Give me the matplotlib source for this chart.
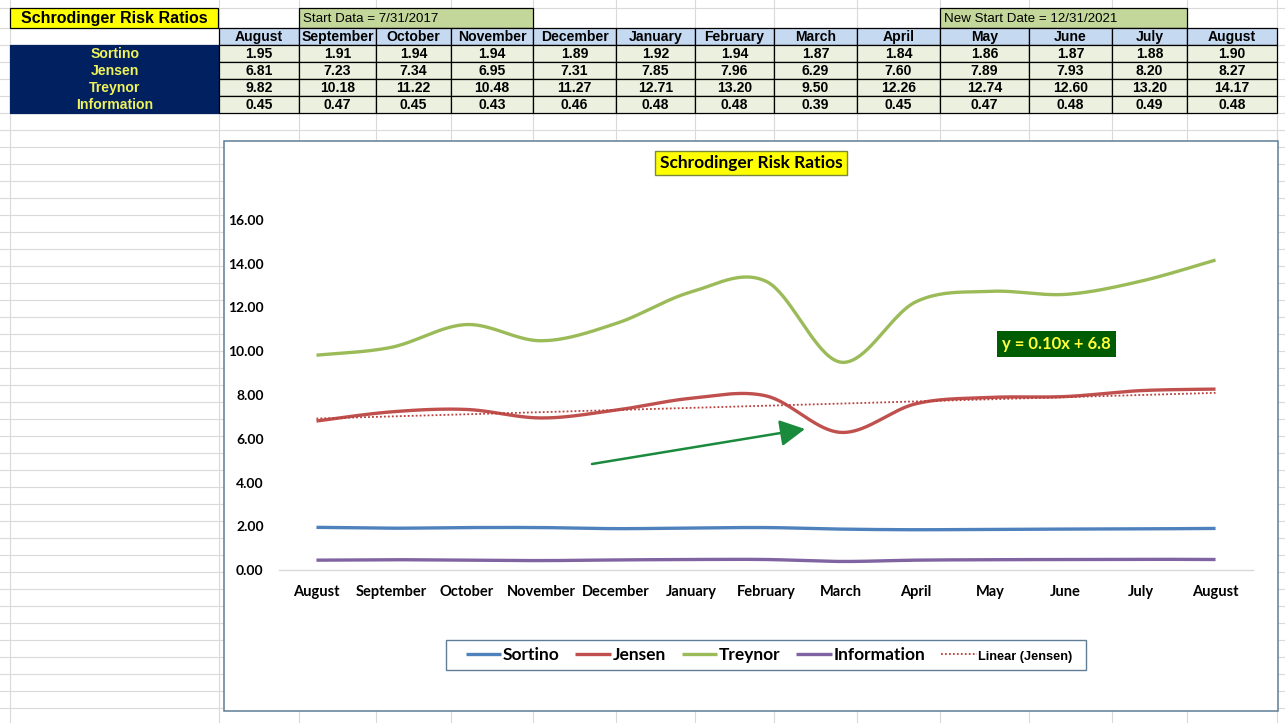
import numpy as np
import matplotlib
matplotlib.use('Agg')
import matplotlib.pyplot as plt
from matplotlib.patches import Rectangle
from matplotlib import font_manager

# ---------------- data ----------------
months = ['August', 'September', 'October', 'November', 'December', 'January',
          'February', 'March', 'April', 'May', 'June', 'July', 'August']
sortino = [1.95, 1.91, 1.94, 1.94, 1.89, 1.92, 1.94, 1.87, 1.84, 1.86, 1.87, 1.88, 1.90]
jensen = [6.81, 7.23, 7.34, 6.95, 7.31, 7.85, 7.96, 6.29, 7.60, 7.89, 7.93, 8.20, 8.27]
treynor = [9.82, 10.18, 11.22, 10.48, 11.27, 12.71, 13.20, 9.50, 12.26, 12.74, 12.60, 13.20, 14.17]
information = [0.45, 0.47, 0.45, 0.43, 0.46, 0.48, 0.48, 0.39, 0.45, 0.47, 0.48, 0.49, 0.48]
series_names = ['Sortino', 'Jensen', 'Treynor', 'Information']
sheet_title = 'Schrodinger Risk Ratios'
start_note = 'Start Data = 7/31/2017'
new_start_note = 'New Start Date = 12/31/2021'
chart_title = 'Schrodinger Risk Ratios'
y_ticks = [0, 2, 4, 6, 8, 10, 12, 14, 16]
trend_label = 'Linear (Jensen)'

series = [sortino, jensen, treynor, information]
colors = ['#4F81BD', '#C0504D', '#9BBB59', '#8064A2']

# ---------------- fonts ----------------
_names = {f.name for f in font_manager.fontManager.ttflist}
if 'Liberation Sans Narrow' in _names:
    NARROW, NS = ['Liberation Sans Narrow', 'DejaVu Sans'], 1.0
else:
    NARROW, NS = ['Liberation Sans', 'DejaVu Sans'], 0.92
CAL = ['Lato', 'DejaVu Sans']

# ---------------- layout ----------------
W, H = 1285, 723
fig = plt.figure(figsize=(W / 100, H / 100), dpi=100)
bg = fig.add_axes([0, 0, 1, 1], zorder=0)
bg.set_xlim(0, W)
bg.set_ylim(H, 0)
bg.axis('off')

cols = [219, 299, 376, 451, 533, 616, 695, 774, 857, 940, 1029, 1112, 1187, 1277]
grid_cols = [10] + cols
row_h = 17
row0 = 28.3
grid_rows = [8] + [row0 + row_h * k for k in range(45)]
gcol = '#DADADA'
for x in grid_cols:
    bg.plot([x, x], [0, H], color=gcol, lw=0.8, zorder=1)
for y in grid_rows:
    bg.plot([0, W], [y, y], color=gcol, lw=0.8, zorder=1)

# sheet title box
bg.add_patch(Rectangle((10, 8), 208, 20.3, fc='#FFFF00', ec='black', lw=0.9, zorder=2))
bg.text(114, 17.4, sheet_title, family=NARROW, fontweight='bold', fontsize=12.5 * NS,
        ha='center', va='center_baseline', zorder=3)
# start notes
for (x0, x1), note in [((299, 533), start_note), ((940, 1187), new_start_note)]:
    bg.add_patch(Rectangle((x0, 8), x1 - x0, 20.3, fc='#C4D79B', ec='black', lw=0.9, zorder=2))
    bg.text(x0 + 4, 18, note, family=NARROW, fontsize=10.5 * NS, ha='left',
            va='center_baseline', zorder=3)

# header row
for i, m in enumerate(months):
    bg.add_patch(Rectangle((cols[i], row0), cols[i + 1] - cols[i], row_h,
                           fc='#C5D9F1', ec='black', lw=0.9, zorder=2))
    bg.text((cols[i] + cols[i + 1]) / 2, row0 + row_h / 2 - 0.9, m, family=NARROW,
            fontweight='bold', fontsize=11 * NS, ha='center', va='center_baseline', zorder=3)

# row labels and values
bg.add_patch(Rectangle((10, row0 + row_h), cols[0] - 10, row_h * 4, fc='#002060',
                       ec='#002060', lw=0.9, zorder=2))
for r, (name, vals) in enumerate(zip(series_names, series)):
    yc = row0 + row_h * (r + 1) + row_h / 2 - 0.9
    bg.text(115, yc, name, family=NARROW, fontweight='bold', fontsize=11 * NS,
            color='#F0F25A', ha='center', va='center_baseline', zorder=3)
    for i, v in enumerate(vals):
        bg.add_patch(Rectangle((cols[i], row0 + row_h * (r + 1)), cols[i + 1] - cols[i], row_h,
                               fc='#EBF1DE', ec='black', lw=0.9, zorder=2))
        bg.text((cols[i] + cols[i + 1]) / 2, yc, f'{v:.2f}', family=NARROW,
                fontweight='bold', fontsize=11 * NS, ha='center', va='center_baseline', zorder=3)

# chart area
bg.add_patch(Rectangle((224, 141), 1278 - 224, 711 - 141, fc='white', ec='#5F7D95',
                       lw=1.1, zorder=4))
# legend frame
bg.add_patch(Rectangle((446, 640), 640, 30, fc='white', ec='#5F7D95', lw=1.0, zorder=5))

# chart title
bg.text(751, 163, chart_title, family=CAL, fontweight='bold', fontsize=12.5,
        ha='center', va='center', zorder=6,
        bbox=dict(boxstyle='square,pad=0.25', fc='#FFFF00', ec='#7A8A3A', lw=1))

# ---------------- chart ----------------
ax = fig.add_axes([279 / W, 1 - 570 / H, (1253 - 279) / W, (570 - 220) / H], zorder=2)
ax.patch.set_alpha(0)


def excel_smooth(yv, n=40):
    yv = np.asarray(yv, float)
    P = np.column_stack([np.arange(len(yv), dtype=float), yv])
    Pe = np.vstack([P[0], P, P[-1]])
    t = np.linspace(0, 1, n)[:, None]
    out = []
    for i in range(len(P) - 1):
        p0, p3 = Pe[i + 1], Pe[i + 2]
        c1 = p0 + (Pe[i + 2] - Pe[i]) / 6
        c2 = p3 - (Pe[i + 3] - Pe[i + 1]) / 6
        seg = (1 - t) ** 3 * p0 + 3 * (1 - t) ** 2 * t * c1 + 3 * (1 - t) * t ** 2 * c2 + t ** 3 * p3
        out.append(seg if i == 0 else seg[1:])
    s = np.vstack(out)
    return s[:, 0], s[:, 1]


handles = []
for name, vals, c in zip(series_names, series, colors):
    xs, ys = excel_smooth(vals)
    h, = ax.plot(xs, ys, color=c, lw=2.4, solid_capstyle='butt', label=name)
    handles.append(h)

# linear trendline for Jensen
xi = np.arange(1, len(jensen) + 1)
slope, intercept = np.polyfit(xi, jensen, 1)
tl, = ax.plot(xi - 1, slope * xi + intercept, color='#B8403D', lw=1.3,
              linestyle=(0, (1, 1.2)), label=trend_label)
handles.append(tl)

ax.set_xlim(-0.5, len(months) - 0.5)
ax.set_ylim(0, 16)
ax.set_xticks(range(len(months)))
ax.set_xticklabels(months, family=CAL, fontweight='bold', fontsize=10.5)
ax.set_yticks(y_ticks)
ax.set_yticklabels([f'{v:.2f}' for v in y_ticks], family=CAL, fontweight='bold', fontsize=10)
ax.tick_params(axis='x', length=0, pad=10.5)
ax.tick_params(axis='y', length=0, pad=11)
for s in ['top', 'right', 'left']:
    ax.spines[s].set_visible(False)
ax.spines['bottom'].set_color('#D9D9D9')
ax.spines['bottom'].set_linewidth(1.0)

# trendline equation
bg.text(1056.5, 344, f'y = {slope:.2f}x + {intercept:.1f}', family=CAL, fontweight='bold',
        fontsize=12, color='#FFFF40', ha='center', va='center', zorder=6,
        bbox=dict(boxstyle='square,pad=0.3', fc='#005C00', ec='none'))

# arrow
bg.annotate('', xy=(805, 429), xytext=(592, 464), zorder=6,
            arrowprops=dict(arrowstyle='-|>,head_length=0.85,head_width=0.45',
                            color='#1A8A3C', lw=1.8, mutation_scale=18,
                            shrinkA=0, shrinkB=0))

leg = ax.legend(handles=handles, loc='center',
                bbox_to_anchor=(769 / W, 1 - 655 / H),
                bbox_transform=fig.transFigure, ncol=5, frameon=False,
                prop=dict(family=CAL, weight='bold', size=12.5), handlelength=2.05,
                handletextpad=0.08, columnspacing=0.92, borderpad=0.3, borderaxespad=0)
leg.get_texts()[-1].set_fontproperties(dict(family=NARROW, weight='bold', size=10 * NS))

fig.savefig('out.png', dpi=100)
